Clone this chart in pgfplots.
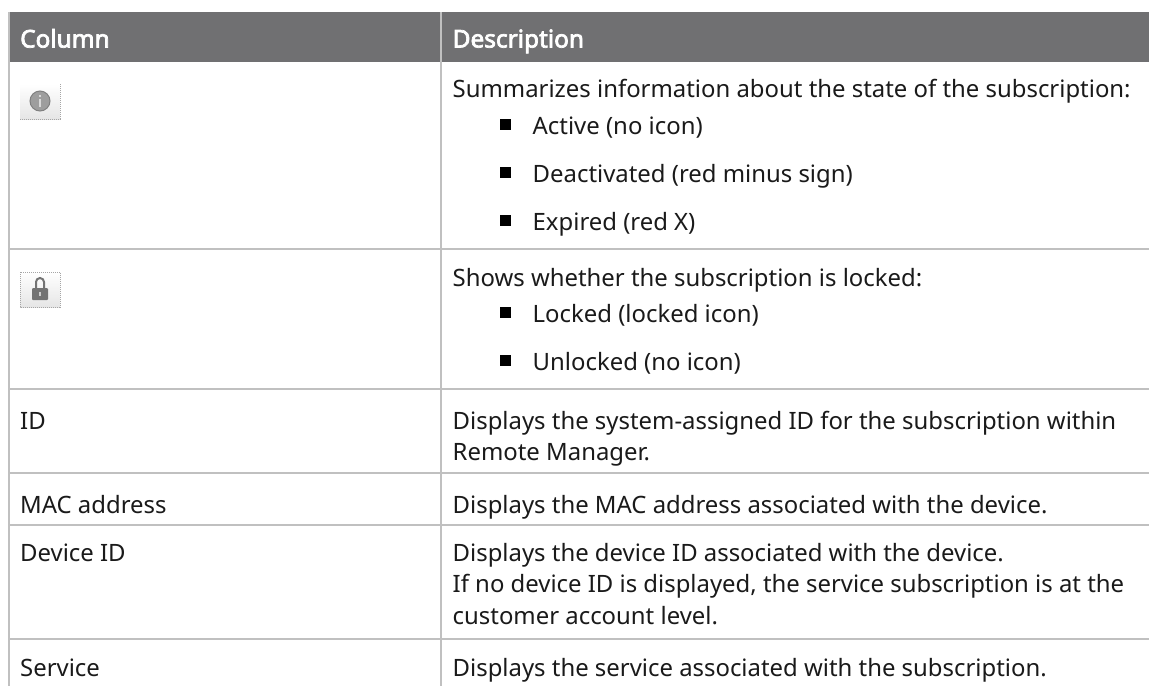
\documentclass[border=0pt]{standalone}
\usepackage{pgfplots}
\pgfplotsset{compat=1.18}
\usepackage{fontspec}
\setmainfont{Noto Sans}
\newfontfamily\hbfont{Noto Sans}[FakeBold=3]
\definecolor{hdr}{HTML}{707072}
\definecolor{rulec}{HTML}{C0C0C0}
\definecolor{txt}{HTML}{1A1A1A}
\tikzset{
  tx/.style={anchor=base west,inner sep=0pt,font=\fontsize{23.9}{28}\selectfont,text=txt},
  hx/.style={anchor=base west,inner sep=0pt,font=\hbfont\fontsize{24.4}{28}\selectfont,text=white},
}
\begin{document}
\begin{tikzpicture}
\begin{axis}[
  width=1149pt,height=686pt,scale only axis,
  xmin=0,xmax=1149,ymin=0,ymax=686,y dir=reverse,
  hide axis,clip=true,
]
% page background
\addplot[draw=none,fill=white] coordinates {(0,0)(1149,0)(1149,686)(0,686)} --cycle;
% header band
\addplot[draw=none,fill=hdr] coordinates {(9,12)(1149,12)(1149,62)(9,62)} --cycle;
% horizontal rules
\addplot[rulec,line width=2pt] coordinates {(9,248.5)(1149,248.5)};
\addplot[rulec,line width=2pt] coordinates {(9,389)(1149,389)};
\addplot[rulec,line width=2pt] coordinates {(9,473)(1149,473)};
\addplot[rulec,line width=2pt] coordinates {(9,525)(1149,525)};
\addplot[rulec,line width=2pt] coordinates {(9,639)(1149,639)};
% vertical rules
\addplot[rulec,line width=2pt] coordinates {(9,12)(9,686)};
\addplot[rulec,line width=2pt] coordinates {(441,12)(441,686)};
% header
\node[hx] at (axis cs:20,47.5) {Column};
\node[hx] at (axis cs:452.5,47.5) {Description};
% row 1
\node[tx] at (axis cs:452.5,97) {Summarizes information about the state of the subscription:};
\node[tx] at (axis cs:532.5,134) {Active (no icon)};
\node[tx] at (axis cs:532.5,182) {Deactivated (red minus sign)};
\node[tx] at (axis cs:532.5,230) {Expired (red X)};
\addplot[draw=none,fill=black] coordinates {(500,119)(510.5,119)(510.5,129.5)(500,129.5)} --cycle;
\addplot[draw=none,fill=black] coordinates {(500,167)(510.5,167)(510.5,177.5)(500,177.5)} --cycle;
\addplot[draw=none,fill=black] coordinates {(500,215)(510.5,215)(510.5,225.5)(500,225.5)} --cycle;
% row 2
\node[tx] at (axis cs:452.5,286) {Shows whether the subscription is locked:};
\node[tx] at (axis cs:532.5,322) {Locked (locked icon)};
\node[tx] at (axis cs:532.5,370) {Unlocked (no icon)};
\addplot[draw=none,fill=black] coordinates {(500,307)(510.5,307)(510.5,317.5)(500,317.5)} --cycle;
\addplot[draw=none,fill=black] coordinates {(500,355)(510.5,355)(510.5,365.5)(500,365.5)} --cycle;
% row 3
\node[tx] at (axis cs:20,429) {ID};
\node[tx] at (axis cs:452.5,429) {Displays the system-assigned ID for the subscription within};
\node[tx] at (axis cs:452.5,460) {Remote Manager.};
% row 4
\node[tx] at (axis cs:20,513) {MAC address};
\node[tx] at (axis cs:452.5,513) {Displays the MAC address associated with the device.};
% row 5
\node[tx] at (axis cs:20,561) {Device ID};
\node[tx] at (axis cs:452.5,561) {Displays the device ID associated with the device.};
\node[tx] at (axis cs:452.5,592) {If no device ID is displayed, the service subscription is at the};
\node[tx] at (axis cs:452.5,624) {customer account level.};
% row 6
\node[tx] at (axis cs:20,676) {Service};
\node[tx] at (axis cs:452.5,676) {Displays the service associated with the subscription.};
% icon info
\path[top color=white,bottom color=black!10] (axis cs:20,84) rectangle (axis cs:60,119);
\draw[black!35,densely dotted,line width=1pt] (axis cs:60,84) -- (axis cs:60,119) -- (axis cs:20,119);
\fill[black!38,draw=black!50,line width=1pt] (axis cs:40,101) circle[radius=10pt];
\fill[black!15] (axis cs:39,99) rectangle (axis cs:41,107);
\fill[black!15] (axis cs:39,95) rectangle (axis cs:41,97);
% icon lock
\path[top color=white,bottom color=black!10] (axis cs:20,272) rectangle (axis cs:60,307);
\draw[black!35,densely dotted,line width=1pt] (axis cs:20,272) -- (axis cs:20,307) -- (axis cs:60,307) -- (axis cs:60,272) -- cycle;
\draw[black!55,line width=2pt] (axis cs:36,288) -- (axis cs:36,282) arc[start angle=180,end angle=0,radius=4pt] -- (axis cs:44,288);
\fill[black!55,rounded corners=1pt] (axis cs:32,288) rectangle (axis cs:48,300);
\fill[black!20] (axis cs:39.2,292) rectangle (axis cs:40.8,296);
\end{axis}
\end{tikzpicture}
\end{document}
